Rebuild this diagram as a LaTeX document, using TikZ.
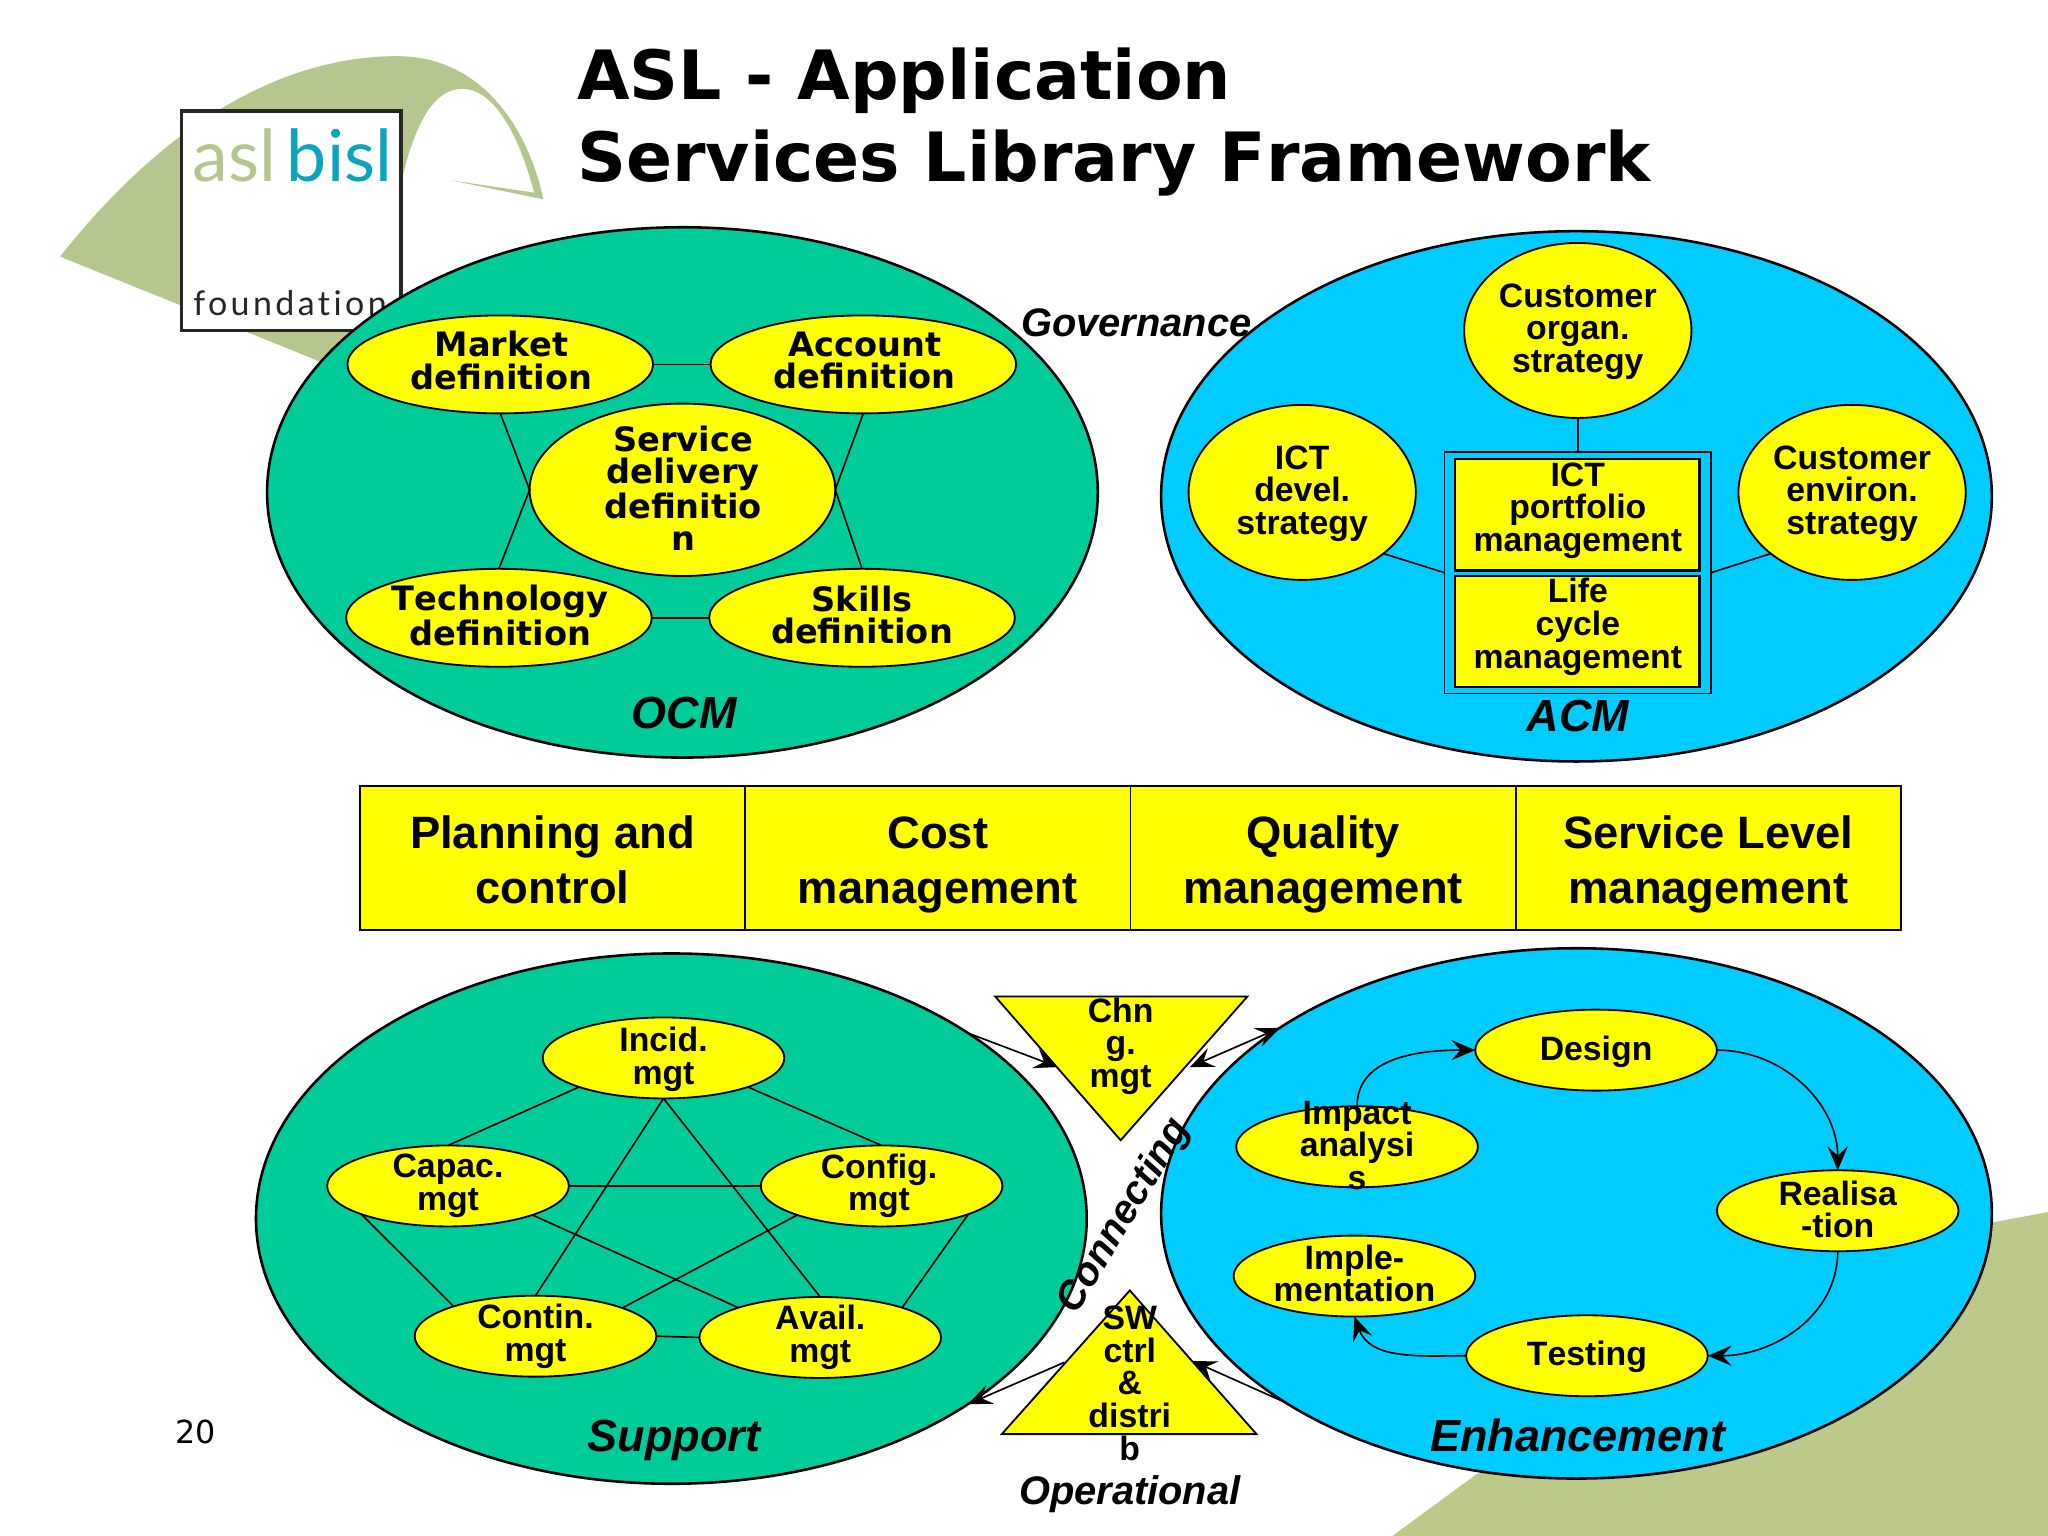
\documentclass[tikz,border=0pt]{standalone}
\usepackage{fontspec}
\setmainfont{DejaVu Sans}[Kerning=Off]
\newfontfamily\libfont{Liberation Sans}[Kerning=Off]
\newfontfamily\logofont{Lato}
\newfontfamily\logowide{Lato}[LetterSpace=10,Ligatures=NoCommon]
\usetikzlibrary{arrows.meta,shapes.geometric,positioning}
\definecolor{ocmgreen}{HTML}{00CC99}
\definecolor{acmblue}{HTML}{00CCFF}
\definecolor{boxyellow}{HTML}{FFFF00}
\definecolor{archgreen}{HTML}{B5C78F}
\definecolor{floorgreen}{HTML}{BDC98A}
\definecolor{bislteal}{HTML}{0AA5BC}
\tikzset{
    every node/.style={inner sep=0pt,outer sep=0pt,align=center},
    dejafont/.style={font=\fontsize{18.3}{17.6}\selectfont\bfseries},
    libbold/.style={font=\fontsize{18.4}{17.8}\selectfont\libfont\bfseries},
    barfont/.style={font=\fontsize{24.7}{30}\selectfont\libfont\bfseries, text height=49.1pt, text depth=0pt},
    tag/.style={font=\fontsize{24.5}{26}\selectfont\libfont\bfseries\itshape},
    sidetag/.style={font=\fontsize{21.7}{24}\selectfont\libfont\bfseries\itshape},
    tipped/.style={-{Stealth[length=13pt,width=11pt,inset=5pt]}}
}

\begin{document}
\begin{tikzpicture}[x=0.025cm,y=-0.025cm]
            % Define styles for the shapes
            \tikzstyle{group} = [ellipse, draw=black, line width=1.4pt, minimum width=636*0.025cm, minimum height=406*0.025cm]
            \tikzstyle{oval} = [ellipse, draw=black, line width=1pt, fill=boxyellow]
            \tikzstyle{bigoval} = [oval, minimum width=234*0.025cm, minimum height=75*0.025cm]
            \tikzstyle{round} = [oval, minimum width=174*0.025cm, minimum height=134*0.025cm]
            \tikzstyle{smalloval} = [oval, minimum width=185*0.025cm, minimum height=62*0.025cm]
            \tikzstyle{link} = [draw=black, line width=0.9pt]
            \tikzstyle{flow} = [link, tipped]
            \tikzstyle{cell} = [rectangle, draw=black, line width=1pt, fill=boxyellow, minimum width=295*0.025cm, minimum height=110*0.025cm]
            \tikzstyle{tile} = [rectangle, draw=black, line width=1.5pt, fill=boxyellow, minimum width=187*0.025cm, minimum height=85*0.025cm]
            \useasboundingbox (0,0) rectangle (1568,1176);

            % Draw background shapes
            \fill[floorgreen] (1066,1176) -- (1130,1129) -- (1300,1050) -- (1525,936) -- (1568,928) -- (1568,1176) -- cycle;
            \fill[archgreen] (46,196.5) .. controls (130,90) and (220,43) .. (304,43)
                .. controls (370,43) and (405,100) .. (416,152.6) -- (345,138) -- (409,147.5)
                .. controls (395,95) and (375,68) .. (354,68)
                .. controls (330,68) and (315,100) .. (305,150) -- (290,295) -- cycle;

            % Draw logo
            \node[rectangle, draw=black!85, line width=2pt, fill=white, minimum width=168*0.025cm, minimum height=168*0.025cm] (logo) at (223,169) {};
            \node[font=\fontsize{39}{40}\selectfont\logofont, text=archgreen] (logoasl) at (179.5,119) {asl};
            \node[font=\fontsize{39}{40}\selectfont\logofont, text=bislteal] (logobisl) at (260,119) {bisl};
            \node[font=\fontsize{18.5}{20}\selectfont\logowide, text=black!85, anchor=west] (logofound) at (148,232) {foundation};

            % Draw title
            \node[font=\fontsize{37}{44.4}\selectfont\bfseries, align=left, anchor=north west] (title) at (442,37) {ASL - Application\\Services Library Framework};
            \node[font=\fontsize{17.3}{20}\selectfont] (page) at (150,1096) {20};

            % Draw the four groups
            \node[group, fill=ocmgreen] (ocm) at (522.5,377) {};
            \node[group, fill=acmblue] (acm) at (1207,380) {};
            \node[group, fill=ocmgreen] (support) at (514,933) {};
            \node[group, fill=acmblue] (enh) at (1207,929) {};

            % Draw OCM ovals
            \node[bigoval] (market) at (383,279) {};
            \node[bigoval] (account) at (661,279) {};
            \node[bigoval, minimum height=132*0.025cm] (service) at (522.5,375) {};
            \node[bigoval] (techno) at (382,473) {};
            \node[bigoval] (skills) at (660,473) {};
            \draw[link] (market) -- (account);
            \draw[link] (techno) -- (skills);
            \draw[link] (market.south) -- (service.west);
            \draw[link] (techno.north) -- (service.west);
            \draw[link] (account.south) -- (service.east);
            \draw[link] (skills.north) -- (service.east);
            \node[dejafont] (marketL) at (384,276) {Market\\definition};
            \node[dejafont] (accountL) at (662,276) {Account\\definition};
            \node[dejafont] (serviceL) at (523,374) {Service\\delivery\\definitio\\n};
            \node[dejafont] (technoL) at (383,471) {Technology\\definition};
            \node[dejafont] (skillsL) at (660,471) {Skills\\definition};
            \node[tag] (ocmL) at (524,546) {OCM};

            % Draw ACM ovals and boxes
            \node[round] (organ) at (1208,253) {};
            \node[round] (devel) at (997,377) {};
            \node[round] (environ) at (1418,377) {};
            \node[rectangle, draw=black, line width=0.9pt, minimum width=204*0.025cm, minimum height=185*0.025cm] (portbox) at (1208,438.5) {};
            \node[tile] (ictport) at (1207.5,394) {};
            \node[tile] (life) at (1207.5,483.5) {};
            \draw[link] (organ) -- (portbox);
            \draw[link] (devel.-37) -- (portbox.west);
            \draw[link] (environ.217) -- (portbox.east);
            \node[libbold] (organL) at (1208,254) {Customer\\organ.\\strategy};
            \node[libbold] (develL) at (997,378) {ICT\\devel.\\strategy};
            \node[libbold] (environL) at (1418,378) {Customer\\environ.\\strategy};
            \node[libbold] (ictportL) at (1208,391) {ICT\\portfolio\\management};
            \node[libbold] (lifeL) at (1208,480) {Life\\cycle\\management};
            \node[tag] (acmL) at (1208,548) {ACM};

            % Draw the bar
            \node[cell, barfont] (planning) at (423,657) {Planning and\\control};
            \node[cell, barfont, right=0pt of planning] (cost) {Cost\\management};
            \node[cell, barfont, right=0pt of cost] (quality) {Quality\\management};
            \node[cell, barfont, right=0pt of quality] (level) {Service Level\\management};

            % Draw Support ovals
            \node[smalloval] (incid) at (508,810) {};
            \node[smalloval] (capac) at (343,908) {};
            \node[smalloval] (config) at (675,908) {};
            \node[smalloval] (contin) at (410,1023) {};
            \node[smalloval] (avail) at (628,1024) {};
            \draw[link] (incid.199) -- (capac.north);
            \draw[link] (incid.341) -- (config.north);
            \draw[link] (incid.south) -- (contin.north);
            \draw[link] (incid.south) -- (avail.north);
            \draw[link] (capac.east) -- (config.west);
            \draw[link] (capac.-19) -- (avail.160);
            \draw[link] (config.199) -- (contin.18);
            \draw[link] (capac.198) -- (contin.160);
            \draw[link] (config.-18) -- (avail.20);
            \draw[link] (contin.east) -- (avail.west);
            \node[libbold] (incidL) at (508,811) {Incid.\\mgt};
            \node[libbold] (capacL) at (343,908) {Capac.\\mgt};
            \node[libbold] (configL) at (673,908) {Config.\\mgt};
            \node[libbold] (continL) at (410,1023) {Contin.\\mgt};
            \node[libbold] (availL) at (628,1024) {Avail.\\mgt};
            \node[tag] (supportL) at (516,1103) {Support};

            % Draw Enhancement ovals
            \node[smalloval] (design) at (1222,804) {};
            \node[smalloval] (impact) at (1039,878) {};
            \node[smalloval] (realis) at (1407,927) {};
            \node[smalloval] (imple) at (1037,977) {};
            \node[smalloval] (testing) at (1215,1038) {};
            \draw[flow] (impact.north) to[out=90,in=180] (design.west);
            \draw[flow] (design.east) to[out=0,in=90] (realis.north);
            \draw[flow] (realis.south) to[out=-90,in=0] (testing.east);
            \draw[flow] (testing.west) to[out=180,in=-70] (imple.south);
            \node[libbold] (designL) at (1222,805) {Design};
            \node[libbold] (impactL) at (1039,877) {Impact\\analysi\\s};
            \node[libbold] (realisL) at (1407,926) {Realisa\\-tion};
            \node[libbold] (impleL) at (1037,975) {Imple-\\mentation};
            \node[libbold] (testingL) at (1215,1039) {Testing};
            \node[tag] (enhL) at (1208,1099) {Enhancement};

            % Draw the two triangles
            \draw[fill=boxyellow, line width=1pt] (762,763) -- (955,763) -- (858,873) -- cycle;
            \draw[fill=boxyellow, line width=1pt] (865,988) -- (962,1098) -- (767,1098) -- cycle;
            \coordinate (chngleft) at (810,817);
            \coordinate (chngright) at (911,817);
            \coordinate (swleft) at (815,1043);
            \coordinate (swright) at (913,1042);
            \node[libbold] (chngL) at (858,801) {Chn\\g.\\mgt};
            \node[libbold] (swL) at (865,1059) {SW\\ctrl\\\&\\distri\\b};

            % Draw arrows to the triangles
            \draw[flow] (support.32) -- (chngleft);
            \draw[flow, {Stealth[length=13pt,width=11pt,inset=5pt]}-{Stealth[length=13pt,width=11pt,inset=5pt]}] (chngright) -- (enh.148);
            \draw[flow] (swleft) -- (support.-32);
            \draw[flow] (enh.213) -- (swright);

            % Add side labels
            \node[sidetag] (govern) at (870,247) {Governance};
            \node[sidetag] (operat) at (865,1144) {Operational};
            \node[sidetag, rotate=59] (connect) at (861,931) {Connecting};
\end{tikzpicture}
\end{document}
